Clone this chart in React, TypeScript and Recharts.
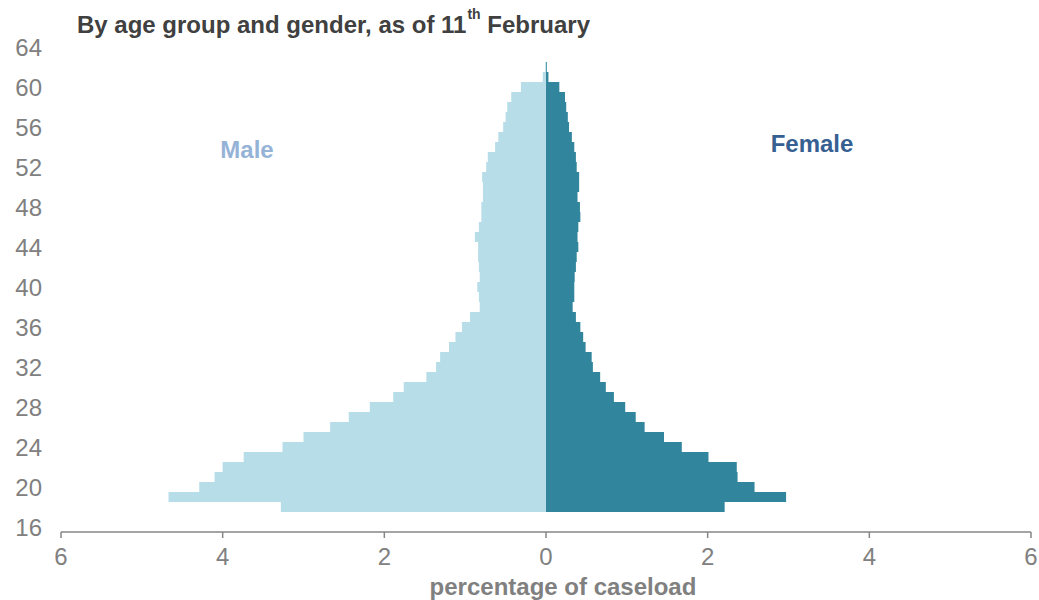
import { Bar, BarChart, XAxis, YAxis } from "recharts";

// age categories on the vertical axis (16 at bottom, 64 at top)
const ages = [
  16, 17, 18, 19, 20, 21, 22, 23, 24, 25, 26, 27, 28, 29, 30, 31, 32, 33, 34,
  35, 36, 37, 38, 39, 40, 41, 42, 43, 44, 45, 46, 47, 48, 49, 50, 51, 52, 53,
  54, 55, 56, 57, 58, 59, 60, 61, 62, 63, 64,
];

// percentage of caseload, one value per age above
const male = [
  null, null, 3.28, 4.67, 4.29, 4.1, 4.0, 3.74, 3.26, 3.0, 2.67, 2.44, 2.18,
  1.89, 1.76, 1.48, 1.36, 1.31, 1.2, 1.12, 1.04, 0.94, 0.82, 0.83, 0.85, 0.82,
  0.83, 0.84, 0.84, 0.88, 0.83, 0.8, 0.8, 0.78, 0.78, 0.79, 0.74, 0.72, 0.63,
  0.59, 0.53, 0.5, 0.48, 0.43, 0.31, 0.04, 0.01, null, null,
];

const female = [
  null, null, 2.21, 2.97, 2.58, 2.37, 2.36, 2.01, 1.68, 1.46, 1.22, 1.11, 0.98,
  0.84, 0.74, 0.67, 0.58, 0.565, 0.49, 0.46, 0.425, 0.37, 0.33, 0.35, 0.35,
  0.355, 0.37, 0.38, 0.4, 0.39, 0.4, 0.425, 0.42, 0.39, 0.41, 0.41, 0.38, 0.37,
  0.35, 0.32, 0.285, 0.27, 0.25, 0.235, 0.165, 0.03, 0.01, null, null,
];

const xTicks = [-6, -4, -2, 0, 2, 4, 6];

const rows = ages.map((age, i) => ({
  age,
  male: male[i] == null ? null : -(male[i] as number),
  female: female[i],
}));

const GREY = "#808080";

export default function App() {
  return (
    <div
      style={{
        position: "absolute",
        left: 0,
        top: 0,
        width: 1039,
        height: 600,
        background: "#fff",
        fontFamily: "'Liberation Sans', Arial, sans-serif",
      }}
    >
      <BarChart
        width={1039}
        height={600}
        data={rows}
        layout="vertical"
        stackOffset="sign"
        barCategoryGap={0}
        barGap={0}
        margin={{ top: 42, right: 8, bottom: 0, left: 0 }}
      >
        <XAxis
          type="number"
          domain={[-6, 6]}
          ticks={xTicks}
          tickFormatter={(v: number) => String(Math.abs(v))}
          height={68}
          axisLine={{ stroke: "#868686", strokeWidth: 1.5 }}
          tickLine={{ stroke: "#868686", strokeWidth: 1.5 }}
          tickSize={6}
          tickMargin={10}
          tick={{ fill: GREY, fontSize: 24 }}
        />
        <YAxis
          type="category"
          dataKey="age"
          reversed
          width={61}
          axisLine={false}
          tickLine={false}
          tickSize={0}
          tickMargin={19}
          interval={3}
          tick={{ fill: GREY, fontSize: 24 }}
        />
        <Bar
          dataKey="male"
          stackId="a"
          fill="#b7dee8"
          isAnimationActive={false}
        />
        <Bar
          dataKey="female"
          stackId="a"
          fill="#31859c"
          isAnimationActive={false}
        />
      </BarChart>

      {/* title, series names and axis title sit over the chart */}
      <svg
        width={1039}
        height={600}
        style={{ position: "absolute", left: 0, top: 0, pointerEvents: "none" }}
      >
        <text x={77} y={33} fontSize={24} fontWeight="bold" fill="#404040">
          By age group and gender, as of 11
          <tspan fontSize={14} dy={-14} dx={1}>
            th
          </tspan>
          <tspan fontSize={24} dy={14}>
            {" "}February
          </tspan>
        </text>
        <text
          x={247}
          y={158}
          textAnchor="middle"
          fontSize={24}
          fontWeight="bold"
          fill="#95b3d7"
        >
          Male
        </text>
        <text
          x={812}
          y={152}
          textAnchor="middle"
          fontSize={24}
          fontWeight="bold"
          fill="#376092"
        >
          Female
        </text>
        <text
          x={563}
          y={595}
          textAnchor="middle"
          fontSize={24}
          fontWeight="bold"
          fill={GREY}
        >
          percentage of caseload
        </text>
      </svg>
    </div>
  );
}
